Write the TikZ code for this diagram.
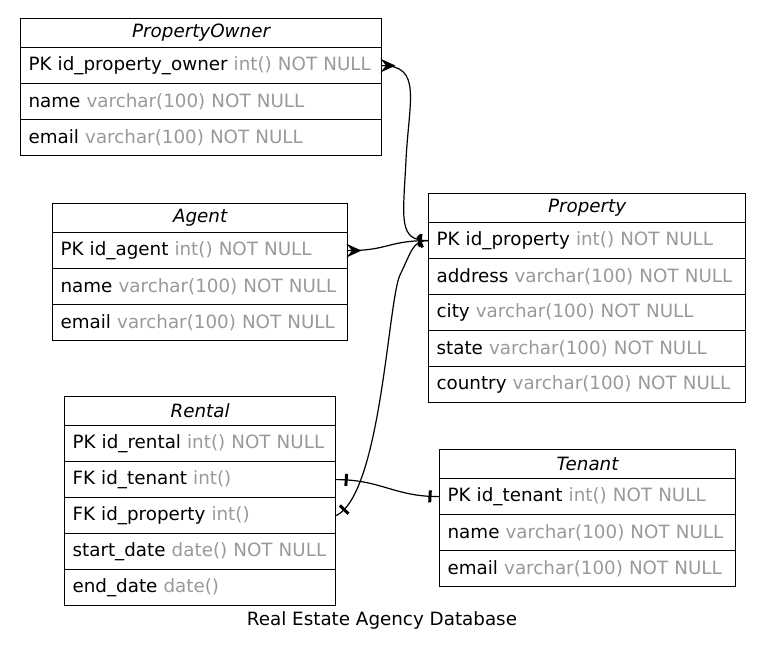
\documentclass[tikz,border=0pt]{standalone}
\usepackage{fontspec}
\setmainfont{DejaVu Sans}
\usetikzlibrary{decorations.markings}
\definecolor{typegray}{HTML}{999999}
\newcommand{\erfont}{\fontsize{18.3}{22}\selectfont}
\newcommand{\dtype}[1]{\textcolor{typegray}{#1}}
\tikzset{headbox/.style={draw, line width=1.2pt, minimum height=29pt, inner sep=0pt, anchor=north west, font=\erfont\itshape}}
\tikzset{rowbox/.style={draw, line width=1.2pt, minimum height=36pt, inner xsep=8pt, inner ysep=0pt, anchor=north west, align=left, font=\erfont}}
\tikzset{relline/.style={line width=1.2pt}}
\tikzset{crowStart/.style={postaction={decorate, decoration={markings, mark=at position 0.01pt with {\draw[line width=1pt, line join=miter, fill=black] (0,5.5pt) -- (12pt,0) -- (0,-5.5pt) -- (4.5pt,0) -- cycle;}}}}}
\tikzset{teeStart/.style={postaction={decorate, decoration={markings, mark=at position #1 with {\draw[line width=3pt] (0,-6pt) -- (0,6pt);}}}}}
\tikzset{teeEnd/.style={postaction={decorate, decoration={markings, mark=at position -#1 with {\draw[line width=3pt] (0,-6pt) -- (0,6pt);}}}}}

\begin{document}
\begin{tikzpicture}[x=1pt, y=-1pt]

\useasboundingbox (0,0) rectangle (765,654);

% PropertyOwner
\node[headbox, minimum width=361pt] (ownerHead) at (20,18) {PropertyOwner};
\node[rowbox, text width=345pt] (ownerPK) at (20,47) {PK id\_property\_owner \dtype{int() NOT NULL}};
\node[rowbox, text width=345pt] (ownerName) at (20,83) {name \dtype{varchar(100) NOT NULL}};
\node[rowbox, text width=345pt] (ownerEmail) at (20,119) {email \dtype{varchar(100) NOT NULL}};

% Agent
\node[headbox, minimum width=295pt] (agentHead) at (52,203) {Agent};
\node[rowbox, text width=279pt] (agentPK) at (52,232) {PK id\_agent \dtype{int() NOT NULL}};
\node[rowbox, text width=279pt] (agentName) at (52,268) {name \dtype{varchar(100) NOT NULL}};
\node[rowbox, text width=279pt] (agentEmail) at (52,304) {email \dtype{varchar(100) NOT NULL}};

% Property
\node[headbox, minimum width=317pt] (propHead) at (428,193) {Property};
\node[rowbox, text width=301pt] (propPK) at (428,222) {PK id\_property \dtype{int() NOT NULL}};
\node[rowbox, text width=301pt] (propAddress) at (428,258) {address \dtype{varchar(100) NOT NULL}};
\node[rowbox, text width=301pt] (propCity) at (428,294) {city \dtype{varchar(100) NOT NULL}};
\node[rowbox, text width=301pt] (propState) at (428,330) {state \dtype{varchar(100) NOT NULL}};
\node[rowbox, text width=301pt] (propCountry) at (428,366) {country \dtype{varchar(100) NOT NULL}};

% Rental
\node[headbox, minimum width=271pt] (rentalHead) at (64,396) {Rental};
\node[rowbox, text width=255pt] (rentalPK) at (64,425) {PK id\_rental \dtype{int() NOT NULL}};
\node[rowbox, text width=255pt] (rentalTenant) at (64,461) {FK id\_tenant \dtype{int()}};
\node[rowbox, text width=255pt] (rentalProp) at (64,497) {FK id\_property \dtype{int()}};
\node[rowbox, text width=255pt] (rentalStart) at (64,533) {start\_date \dtype{date() NOT NULL}};
\node[rowbox, text width=255pt] (rentalEnd) at (64,569) {end\_date \dtype{date()}};

% Tenant
\node[headbox, minimum width=296pt] (tenantHead) at (439,449) {Tenant};
\node[rowbox, text width=280pt] (tenantPK) at (439,478) {PK id\_tenant \dtype{int() NOT NULL}};
\node[rowbox, text width=280pt] (tenantName) at (439,514) {name \dtype{varchar(100) NOT NULL}};
\node[rowbox, text width=280pt] (tenantEmail) at (439,550) {email \dtype{varchar(100) NOT NULL}};

\node[font=\erfont] (caption) at (382,620) {Real Estate Agency Database};

% relations
\draw[relline, crowStart, teeEnd=8pt] (ownerPK.east) .. controls +(40,0) and +(3,-60) .. (406,160) .. controls +(-3,60) and +(-30,0) .. (propPK.west);
\draw[relline, crowStart, teeEnd=8pt] (agentPK.east) .. controls +(40,0) and +(-40,0) .. (propPK.west);
\draw[relline, teeStart=10pt, teeEnd=8pt] (rentalProp.east) .. controls +(45,-22) and +(-12,25) .. (400,275) .. controls +(12,-25) and +(-15,0) .. (propPK.west);
\draw[relline, teeStart=10pt, teeEnd=9pt] (rentalTenant.east) .. controls +(45,0) and +(-45,0) .. (tenantPK.west);

\end{tikzpicture}
\end{document}
